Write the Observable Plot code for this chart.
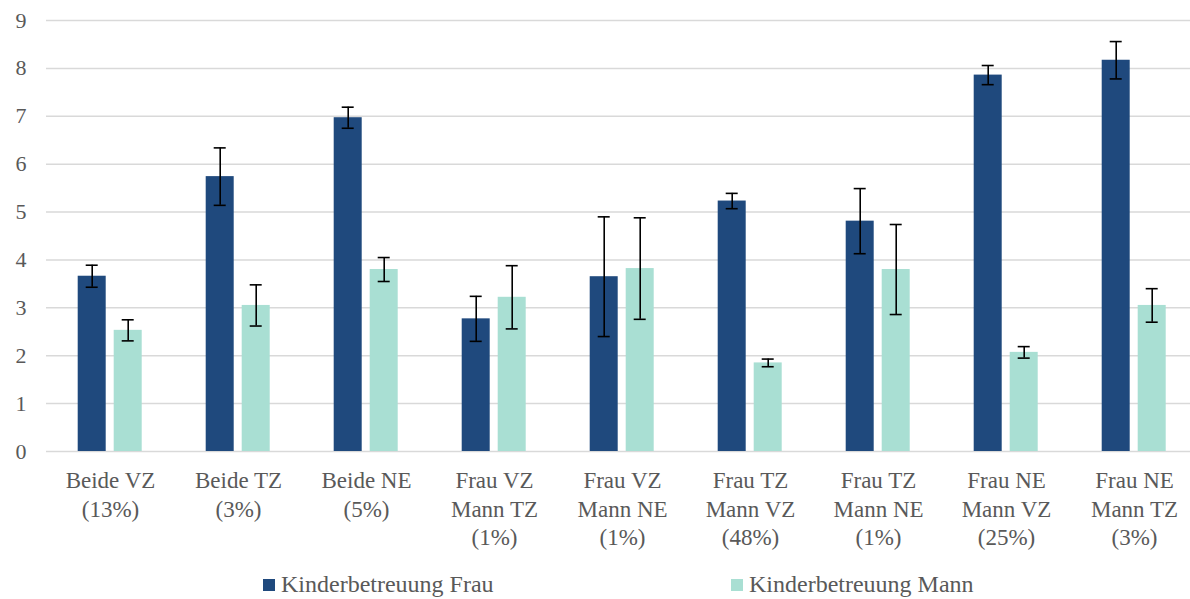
<!DOCTYPE html>
<html>
<head>
<meta charset="utf-8">
<script src="https://cdn.jsdelivr.net/npm/d3@7"></script>
<script src="https://cdn.jsdelivr.net/npm/@observablehq/plot@0.6"></script>
<style>
  html, body { margin: 0; padding: 0; background: #fff; overflow: hidden; }
  #wrap { position: relative; width: 1190px; height: 599px; font-family: 'Liberation Serif', serif; }
  .leg { position: absolute; top: 570px; font-family: 'Liberation Serif', serif; font-size: 24px; color: #595959; line-height: 28px; white-space: nowrap; }
  .sw { display: inline-block; width: 12px; height: 12px; margin-right: 6px; vertical-align: 1px; }
</style>
</head>
<body>
<div id="wrap">
  <div id="chart"></div>
  <div class="leg" style="left:263px"><span class="sw" style="background:#1F497D"></span>Kinderbetreuung Frau</div>
  <div class="leg" style="left:731px"><span class="sw" style="background:#A9DFD3"></span>Kinderbetreuung Mann</div>
</div>
<script>
const categories = ["Beide VZ", "Beide TZ", "Beide NE", "Frau VZ Mann TZ", "Frau VZ Mann NE", "Frau TZ Mann VZ", "Frau TZ Mann NE", "Frau NE Mann VZ", "Frau NE Mann TZ"];
const categoryLabels = ["Beide VZ\n(13%)", "Beide TZ\n(3%)", "Beide NE\n(5%)", "Frau VZ\nMann TZ\n(1%)", "Frau VZ\nMann NE\n(1%)", "Frau TZ\nMann VZ\n(48%)", "Frau TZ\nMann NE\n(1%)", "Frau NE\nMann VZ\n(25%)", "Frau NE\nMann TZ\n(3%)"];
const series = ["Kinderbetreuung Frau", "Kinderbetreuung Mann"];
const frau = [3.66, 5.74, 6.97, 2.77, 3.65, 5.23, 4.81, 7.86, 8.17];
const frauErr = [0.23, 0.60, 0.22, 0.47, 1.25, 0.16, 0.68, 0.20, 0.39];
const mann = [2.53, 3.05, 3.80, 3.22, 3.82, 1.85, 3.80, 2.07, 3.05];
const mannErr = [0.22, 0.43, 0.25, 0.66, 1.06, 0.08, 0.94, 0.12, 0.35];
const yTicks = [0, 1, 2, 3, 4, 5, 6, 7, 8, 9];

const data = [];
categories.forEach((c, i) => {
  data.push({cat: c, s: series[0], v: frau[i], lo: frau[i] - frauErr[i], hi: frau[i] + frauErr[i]});
  data.push({cat: c, s: series[1], v: mann[i], lo: mann[i] - mannErr[i], hi: mann[i] + mannErr[i]});
});
const labelOf = new Map(categories.map((c, i) => [c, categoryLabels[i]]));
const FONT = "'Liberation Serif', serif";

const chart = Plot.plot({
  width: 1190,
  height: 565,
  marginTop: 20,
  marginBottom: 114,
  marginLeft: 46.3,
  marginRight: -8.6,
  style: {fontFamily: FONT, fontSize: "22px", color: "#595959", background: "#fff"},
  fx: {domain: categories, padding: 0, label: null},
  x: {domain: series, paddingInner: 0.2186, paddingOuter: 0.8585, axis: null},
  y: {domain: [0, 9], label: null},
  color: {domain: series, range: ["#1F497D", "#A9DFD3"]},
  marks: [
    Plot.ruleY(yTicks, {stroke: "#d9d9d9", strokeWidth: 1.5}),
    Plot.barY(data, {fx: "cat", x: "s", y: "v", fill: "s"}),
    Plot.ruleX(data, {fx: "cat", x: "s", y1: "lo", y2: "hi", stroke: "#000", strokeWidth: 1.6}),
    Plot.tickY(data, {fx: "cat", x: "s", y: "hi", stroke: "#000", strokeWidth: 1.6, insetLeft: 8, insetRight: 8}),
    Plot.tickY(data, {fx: "cat", x: "s", y: "lo", stroke: "#000", strokeWidth: 1.6, insetLeft: 8, insetRight: 8}),
    Plot.axisY({ticks: yTicks, tickSize: 0, tickPadding: 20, label: null, tickFormat: d => String(d), fill: "#595959", fontSize: 22, fontFamily: FONT}),
    Plot.axisFx({anchor: "bottom", tickSize: 0, tickPadding: 16, label: null, tickFormat: d => labelOf.get(d), lineHeight: 1.25, fill: "#595959", fontSize: 23, fontFamily: FONT})
  ]
});
document.getElementById("chart").appendChild(chart);
</script>
</body>
</html>
